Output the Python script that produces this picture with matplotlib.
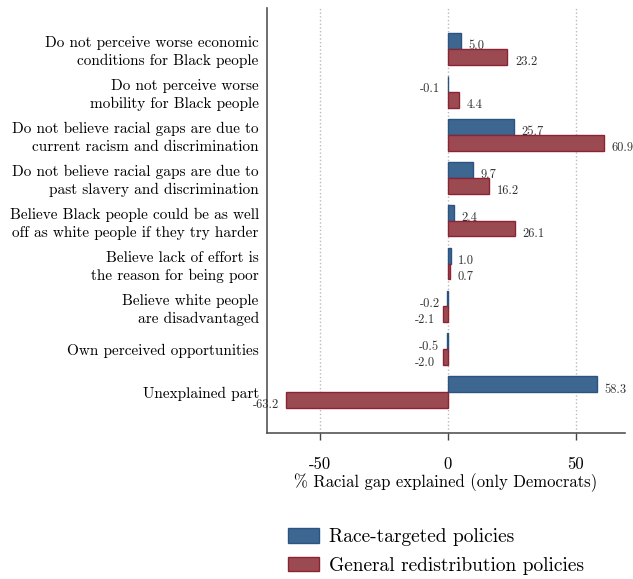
import numpy as np
import matplotlib
matplotlib.use("Agg")
import matplotlib.pyplot as plt

plt.rcParams["font.family"] = ["cmr10", "DejaVu Serif"]
plt.rcParams["axes.unicode_minus"] = False
plt.rcParams["mathtext.fontset"] = "cm"

categories = [
	"Do not perceive worse economic\nconditions for Black people",
	"Do not perceive worse\nmobility for Black people",
	"Do not believe racial gaps are due to\ncurrent racism and discrimination",
	"Do not believe racial gaps are due to\npast slavery and discrimination",
	"Believe Black people could be as well\noff as white people if they try harder",
	"Believe lack of effort is\nthe reason for being poor",
	"Believe white people\nare disadvantaged",
	"Own perceived opportunities",
	"Unexplained part",
]
race_targeted = [5.0, -0.1, 25.7, 9.7, 2.4, 1.0, -0.2, -0.5, 58.3]
general_redist = [23.2, 4.4, 60.9, 16.2, 26.1, 0.7, -2.1, -2.0, -63.2]
xticks = [-50, 0, 50]

blue_fill, blue_edge = "#3d6690", "#2a5383"
red_fill, red_edge = "#9c4a51", "#8a2434"

fig = plt.figure(figsize=(6.33, 5.79), dpi=100)
ax = fig.add_axes([0.422, 0.252, 0.565, 0.734])

y = np.arange(len(categories))
h = 0.37
ax.barh(y - h/2, race_targeted, height=h, color=blue_fill, edgecolor=blue_edge, linewidth=1, label="Race-targeted policies", zorder=3)
ax.barh(y + h/2, general_redist, height=h, color=red_fill, edgecolor=red_edge, linewidth=1, label="General redistribution policies", zorder=3)

# value labels next to bar ends
for vals, off in ((race_targeted, -h/2), (general_redist, h/2)):
	for i, v in enumerate(vals):
		if v >= 0:
			ax.text(v + 3, i + off + 0.12, f"{v:.1f}", ha="left", va="center", fontsize=9, color="#333333")
		else:
			ax.text(v - 3, i + off + 0.12, f"{v:.1f}", ha="right", va="center", fontsize=9, color="#333333")

ax.set_yticks(y)
ax.set_yticklabels(categories, fontsize=11, linespacing=1.35)
ax.tick_params(axis="y", length=0, pad=6)
ax.set_ylim(len(categories) - 0.05, -0.95)

ax.set_xlim(-70.7, 69.1)
ax.set_xticks(xticks)
ax.set_xticklabels([str(t) for t in xticks], fontsize=12)
ax.tick_params(axis="x", length=5, width=1, pad=12, color="#444444")
ax.set_xlabel("% Racial gap explained (only Democrats)", fontsize=12, labelpad=1)

ax.grid(True, axis="x", linestyle=":", color="#bbbbbb", linewidth=1, zorder=0)
ax.spines["right"].set_visible(False)
ax.spines["top"].set_visible(False)
ax.spines["left"].set_color("#555555")
ax.spines["bottom"].set_color("#555555")
ax.spines["left"].set_linewidth(1.2)
ax.spines["bottom"].set_linewidth(1.2)

fig.legend(loc="upper left", bbox_to_anchor=(0.428, 0.118), frameon=False, fontsize=14,
	handlelength=1.55, handleheight=0.75, handletextpad=0.55, labelspacing=0.55)

fig.savefig("out.png", dpi=100)
